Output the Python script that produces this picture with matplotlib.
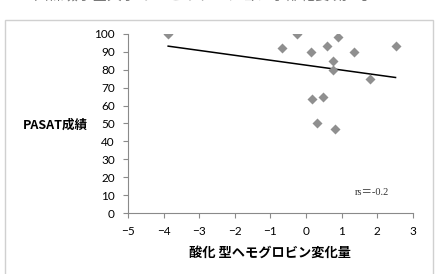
import numpy as np
import matplotlib.pyplot as plt
from matplotlib.patches import Rectangle

plt.rcParams['font.family'] = ['Lato', 'Noto Sans CJK JP', 'DejaVu Sans']

# change in oxidised haemoglobin vs PASAT score
hb_change = [-3.87, -0.67, -0.25, 0.14, 0.59, 0.90, 0.75, 0.76, 1.34, 2.51,
             1.80, 0.18, 0.47, 0.30, 0.80]
pasat = [100, 92, 100, 90, 93.5, 98.5, 85, 80, 90, 93.5,
         75, 63.5, 65, 50, 47]
xticks = [-5, -4, -3, -2, -1, 0, 1, 2, 3]
yticks = [0, 10, 20, 30, 40, 50, 60, 70, 80, 90, 100]

fig = plt.figure(figsize=(4.41, 2.74), dpi=100)
ax = fig.add_axes([0.290, 0.2226, 0.6465, 0.6534])

# header of the journal page, cut off at the top like in the scan
fig.text(0.5, 1.012, '四條畷学園大学 リハビリテーション学部紀要 第8号 2012',
         ha='center', va='center', fontsize=10.5, color='#777777',
         family=['Noto Sans CJK JP', 'DejaVu Sans'])
fig.patches.append(Rectangle((5 / 441, -0.05), 428 / 441, 1.05 - 20 / 274,
                             transform=fig.transFigure, fill=False,
                             edgecolor='#d0d0d0', lw=1.0))

x = np.array(hb_change)
y = np.array(pasat)
ax.plot(x, y, 'D', color='#8f8f8f', ms=5.5, mec='none', zorder=3)

k, b = np.polyfit(x, y, 1)
xs = np.array([x.min(), x.max()])
ax.plot(xs, k * xs + b, color='black', lw=1.1, zorder=2)

ax.set_xlim(-5, 3)
ax.set_ylim(0, 100)
ax.set_xticks(xticks)
ax.set_yticks(yticks)
for s in ['top', 'right']:
    ax.spines[s].set_visible(False)
for s in ['left', 'bottom']:
    ax.spines[s].set_color('#8a8a8a')
ax.tick_params(direction='out', length=3.5, color='#8a8a8a', labelsize=8.5)
ax.tick_params(axis='y', pad=6)
ax.tick_params(axis='x', pad=6)

ax.set_xlabel('酸化 型ヘモグロビン変化量', fontsize=9.5, fontweight='bold',
              family=['Noto Sans CJK JP'], labelpad=6)
ax.set_ylabel('PASAT成績', fontsize=9, fontweight='bold', rotation=0,
              family=['Noto Sans CJK JP'], va='center', ha='center')
ax.yaxis.set_label_coords(-0.256, 0.49)

ax.text(1.85, 11.7, 'rs＝-0.2', fontsize=7.5, color='#333333', ha='center',
        va='center', family=['Liberation Serif', 'Noto Sans CJK JP'])

fig.savefig('out.png', dpi=100)
